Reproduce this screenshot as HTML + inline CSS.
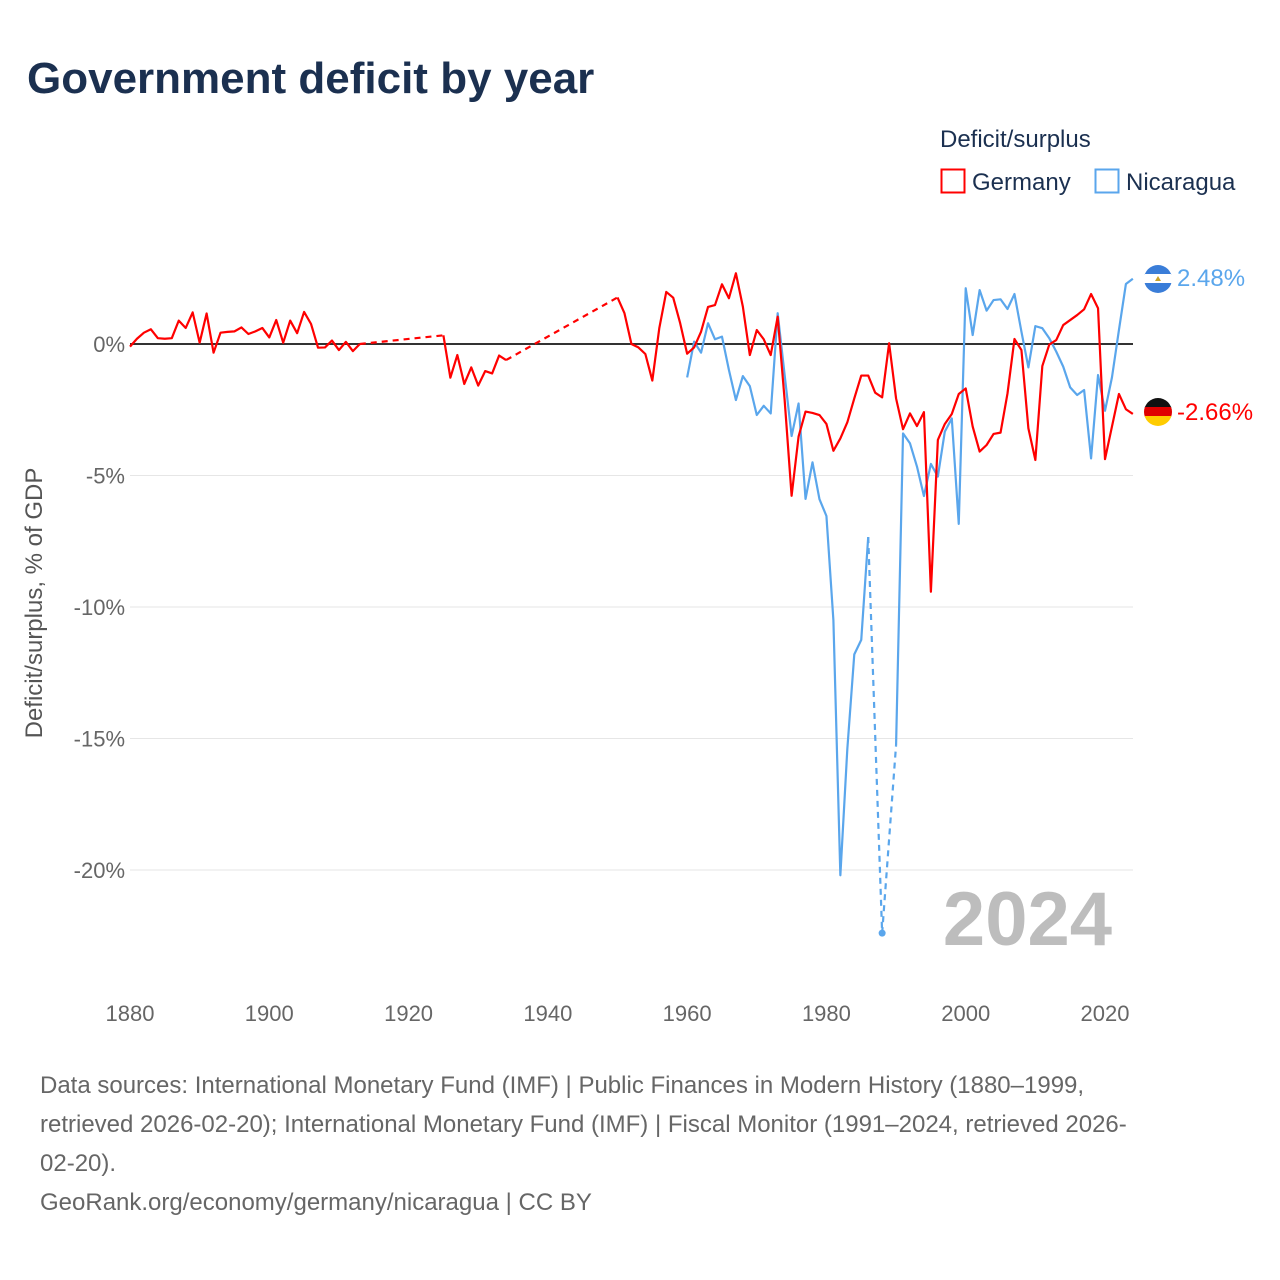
<!DOCTYPE html>
<html><head><meta charset="utf-8">
<style>
body{margin:0;background:#fff;font-family:"Liberation Sans",sans-serif;}
#wrap{position:relative;width:1280px;height:1280px;overflow:hidden;}
</style></head>
<body>
<div id="wrap">
<svg id="chart" width="1280" height="1280" xmlns="http://www.w3.org/2000/svg">
<defs>
<clipPath id="cNic"><circle cx="1158" cy="279" r="14"/></clipPath>
<clipPath id="cGer"><circle cx="1158" cy="412" r="14"/></clipPath>
</defs>
<text x="27" y="93" font-size="44" font-weight="bold" fill="#1b3050">Government deficit by year</text>
<text x="940" y="147" font-size="24" fill="#1b3050">Deficit/surplus</text>
<g>
<rect x="941.5" y="169.5" width="23" height="23" fill="none" stroke="#ff0000" stroke-width="2"/>
<text x="972" y="190" font-size="24" fill="#1b3050">Germany</text></g>
<g>
<rect x="1095.5" y="169.5" width="23" height="23" fill="none" stroke="#5aa6ec" stroke-width="2"/>
<text x="1126" y="190" font-size="24" fill="#1b3050">Nicaragua</text></g>
<g id="grid"></g>
<g id="series"></g>
<text x="42" y="603" font-size="24" fill="#555" text-anchor="middle" transform="rotate(-90 42 603)">Deficit/surplus, % of GDP</text>
<text x="1112" y="945" font-size="76" font-weight="bold" fill="#bdbdbd" text-anchor="end">2024</text>
<g clip-path="url(#cNic)">
<rect x="1144" y="265" width="28" height="10" fill="#3a7dd8"/><rect x="1144" y="274" width="28" height="10" fill="#fff"/><rect x="1144" y="283" width="28" height="10" fill="#3a7dd8"/>
<polygon points="1155,281 1161,281 1158,276" fill="#c9a227"/></g>
<text x="1177" y="286" font-size="24" fill="#5aa6ec">2.48%</text>
<g clip-path="url(#cGer)">
<rect x="1144" y="398" width="28" height="10" fill="#111"/><rect x="1144" y="407" width="28" height="10" fill="#e00000"/><rect x="1144" y="416" width="28" height="10" fill="#ffcc00"/></g>
<text x="1177" y="420" font-size="24" fill="#ff0000">-2.66%</text>
<g font-size="24" fill="#666">
<text x="40" y="1093">Data sources: International Monetary Fund (IMF) | Public Finances in Modern History (1880–1999,</text>
<text x="40" y="1132">retrieved 2026-02-20); International Monetary Fund (IMF) | Fiscal Monitor (1991–2024, retrieved 2026-</text>
<text x="40" y="1171">02-20).</text>
<text x="40" y="1210">GeoRank.org/economy/germany/nicaragua | CC BY</text>
</g>
</svg>
</div>
<script>
const yTicks=[0,-5,-10,-15,-20];
const yTickLabels=["0%","-5%","-10%","-15%","-20%"];
const xTicks=[1880,1900,1920,1940,1960,1980,2000,2020];
const germanyStart=1880;
const germanyValues=[-0.1,0.2,0.43,0.56,0.22,0.2,0.22,0.89,0.61,1.2,0.05,1.16,-0.33,0.43,0.46,0.48,0.63,0.38,0.48,0.61,0.25,0.91,0.05,0.89,0.41,1.22,0.76,-0.14,-0.13,0.13,-0.23,0.08,-0.27,0.0,
null,null,null,null,null,null,null,null,null,null,null,
0.33,-1.28,-0.42,-1.52,-0.89,-1.58,-1.03,-1.12,-0.44,-0.61,
null,null,null,null,null,null,null,null,null,null,null,null,null,null,null,
1.77,1.17,0,-0.13,-0.38,-1.39,0.6,1.98,1.76,0.79,-0.37,-0.13,0.47,1.41,1.48,2.27,1.74,2.69,1.42,-0.42,0.53,0.18,-0.42,1.04,-2.13,-5.77,-3.52,-2.57,-2.62,-2.7,-3.04,-4.06,-3.59,-2.98,-2.07,-1.2,-1.2,-1.85,-2.03,0.03,-2.07,
-3.24,-2.64,-3.12,-2.59,-9.42,-3.65,-3.04,-2.66,-1.9,-1.69,-3.14,-4.09,-3.84,-3.42,-3.37,-1.88,0.19,-0.23,-3.21,-4.41,-0.84,-0.02,0.15,0.72,0.91,1.1,1.32,1.9,1.36,-4.38,-3.14,-1.9,-2.48,-2.66];
const nicaraguaStart=1960;
const nicaraguaValues=[-1.27,0.09,-0.33,0.79,0.18,0.28,-0.99,-2.13,-1.22,-1.6,-2.7,-2.35,-2.64,1.17,-1.18,-3.5,-2.26,-5.89,-4.5,-5.9,-6.54,-10.5,-20.2,-15.4,-11.8,-11.25,-7.34,
null,-22.4,null,-15.25,
-3.4,-3.78,-4.66,-5.78,-4.56,-5.04,-3.33,-2.83,-6.84,2.12,0.34,2.05,1.27,1.67,1.7,1.33,1.9,0.47,-0.89,0.68,0.6,0.22,-0.29,-0.86,-1.65,-1.94,-1.75,-4.35,-1.18,-2.54,-1.27,0.53,2.28,2.48];

const NS="http://www.w3.org/2000/svg";
function X(yr){return 130+(yr-1880)*(975/140);}
function Y(v){return 344-v*26.3;}
function mk(tag,attrs,parent){const e=document.createElementNS(NS,tag);for(const k in attrs)e.setAttribute(k,attrs[k]);parent.appendChild(e);return e;}
const grid=document.getElementById('grid');
yTicks.forEach((t,i)=>{
  const l=mk('line',{x1:130,x2:1133,y1:Y(t),y2:Y(t),stroke:t===0?'#333':'#e6e6e6','stroke-width':t===0?2:1},grid);
  
  
  const tx=mk('text',{x:125,y:Y(t)+8,'font-size':22,fill:'#666','text-anchor':'end'},grid);
  tx.textContent=yTickLabels[i];
  
  
});
xTicks.forEach(t=>{
  const tx=mk('text',{x:X(t),y:1021,'font-size':22,fill:'#666','text-anchor':'middle'},grid);
  tx.textContent=t;
  
  
});
function draw(start,vals,color,name){
  const g=mk('g',{},document.getElementById('series'));
  
  
  const pts=vals.map((v,i)=>v===null?null:[X(start+i),Y(v)]);
  let segs=[],cur=[];
  pts.forEach(p=>{if(p===null){if(cur.length)segs.push(cur);cur=[];}else cur.push(p);});
  if(cur.length)segs.push(cur);
  segs.forEach((s,i)=>{
    if(s.length===1){const c=mk('circle',{cx:s[0][0],cy:s[0][1],r:3.5,fill:color},g);}
    else{const p=mk('polyline',{points:s.map(q=>q.join(',')).join(' '),fill:'none',stroke:color,'stroke-width':2.2,'stroke-linejoin':'round'},g);}
    if(i>0){const a=segs[i-1][segs[i-1].length-1],b=s[0];
      const d=mk('line',{x1:a[0],y1:a[1],x2:b[0],y2:b[1],stroke:color,'stroke-width':2.2,'stroke-dasharray':'6,5'},g);
      
      }
  });
}
draw(nicaraguaStart,nicaraguaValues,'#5aa6ec','series-nicaragua');
draw(germanyStart,germanyValues,'#ff0000','series-germany');
</script>
</body></html>
